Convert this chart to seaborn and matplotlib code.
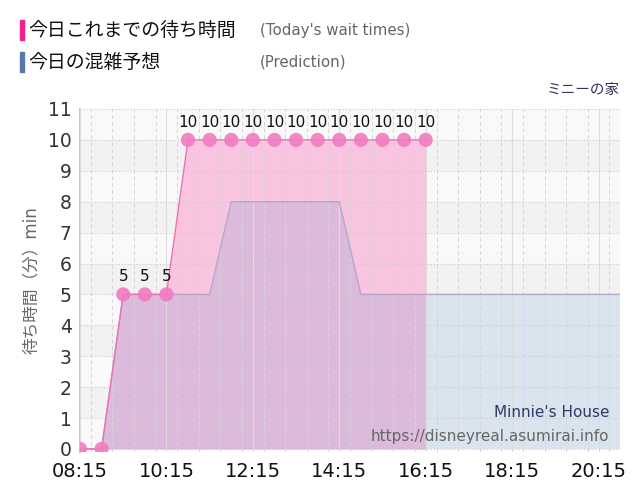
import numpy as np
import pandas as pd
import seaborn as sns
import matplotlib.pyplot as plt
from matplotlib.patches import Rectangle
from matplotlib.ticker import FuncFormatter, MultipleLocator

# Data (hours of the day, 30-min steps)
actual_times = [8.25, 8.75, 9.25, 9.75, 10.25, 10.75, 11.25, 11.75, 12.25, 12.75,
                13.25, 13.75, 14.25, 14.75, 15.25, 15.75, 16.25]
actual_waits = [0, 0, 5, 5, 5, 10, 10, 10, 10, 10, 10, 10, 10, 10, 10, 10, 10]

pred_times = [8.25, 8.75, 9.25, 9.75, 10.25, 10.75, 11.25, 11.75, 12.25, 12.75,
              13.25, 13.75, 14.25, 14.75, 15.25, 15.75, 16.25, 16.75, 17.25,
              17.75, 18.25, 18.75, 19.25, 19.75, 20.25, 20.75]
pred_waits = [0, 0, 5, 5, 5, 5, 5, 8, 8, 8, 8, 8, 8, 5, 5, 5, 5, 5, 5, 5, 5, 5,
              5, 5, 5, 5]

tick_hours = [8.25, 10.25, 12.25, 14.25, 16.25, 18.25, 20.25]

df_act = pd.DataFrame({'time': actual_times, 'wait': actual_waits})
df_pred = pd.DataFrame({'time': pred_times, 'wait': pred_waits})

sns.set_theme(style="white")
plt.rcParams['font.family'] = ['DejaVu Sans', 'Noto Sans CJK JP']

fig = plt.figure(figsize=(6.4, 5.0), dpi=100)
ax = fig.add_axes([0.125, 0.096, 0.844, 0.686])

# alternating background bands
for k in range(11):
    ax.axhspan(k, k + 1, color='#f2f2f2' if k % 2 == 1 else '#f9f9f9', zorder=0, lw=0)

# actual wait fill (pink), then prediction fill on top
ax.fill_between(df_act['time'], 0, df_act['wait'], color='#f8c4e0', zorder=1, lw=0)
last_t = actual_times[-1]
p_before = df_pred[df_pred['time'] <= last_t]
p_after = df_pred[df_pred['time'] >= last_t]
ax.fill_between(p_before['time'], 0, p_before['wait'], color='#dcbadb', zorder=2, lw=0)
ax.fill_between(p_after['time'], 0, p_after['wait'], color='#dae4ee', zorder=2, lw=0)
sns.lineplot(data=df_pred, x='time', y='wait', ax=ax, color='#b8a6c6', lw=1, zorder=3)

# actual line and points
sns.lineplot(data=df_act, x='time', y='wait', ax=ax, color='#f06eb4', lw=1, zorder=4)
sns.scatterplot(data=df_act, x='time', y='wait', ax=ax, color='#f07cc0', s=105,
                edgecolor='none', alpha=0.9, zorder=5)
for t, w in zip(actual_times, actual_waits):
    if w > 0:
        ax.text(t, w + 0.33, str(w), ha='center', va='bottom', fontsize=11,
                color='#111111', zorder=6)

# grid
ax.set_xlim(8.25, 20.75)
ax.set_ylim(-0.1, 11)
ax.xaxis.set_major_locator(plt.FixedLocator(tick_hours))
ax.xaxis.set_minor_locator(MultipleLocator(0.5))
ax.yaxis.set_major_locator(MultipleLocator(1))
ax.grid(which='major', axis='x', color='#dddddd', lw=0.8, zorder=2.5)
ax.grid(which='minor', axis='x', color='#d6d6d6', lw=0.7, ls=(0, (4, 3)), zorder=2.5)
ax.grid(which='major', axis='y', color='#cccccc', lw=0.8, ls=':', zorder=2.5)
ax.set_axisbelow(False)

ax.xaxis.set_major_formatter(FuncFormatter(
    lambda v, p: f"{int(v):02d}:{int(round((v - int(v)) * 60)):02d}"))
ax.tick_params(axis='x', labelsize=14, colors='#111111', length=0, pad=7)
ax.tick_params(axis='y', labelsize=13.5, labelcolor='#333333', length=0, pad=6)
for s in ax.spines.values():
    s.set_visible(False)
ax.spines['left'].set_visible(True)
ax.spines['left'].set_color('#bbbbbb')
ax.set_xlabel('')
ax.set_ylabel('待ち時間（分）min', fontsize=12, color='#666666', labelpad=6)

# legend at top
fig.patches.append(Rectangle((20 / 640, 1 - 40 / 500), 4 / 640, 20 / 500,
                             transform=fig.transFigure, color='#f0218c'))
fig.patches.append(Rectangle((20 / 640, 1 - 72 / 500), 4 / 640, 20 / 500,
                             transform=fig.transFigure, color='#5b79a8'))
fig.text(28 / 640, 1 - 30 / 500, '今日これまでの待ち時間', fontsize=13.6, va='center', color='#111111')
fig.text(28 / 640, 1 - 62 / 500, '今日の混雑予想', fontsize=13.6, va='center', color='#111111')
fig.text(260 / 640, 1 - 30 / 500, "(Today's wait times)", fontsize=10.8, va='center', color='#666666')
fig.text(260 / 640, 1 - 62 / 500, '(Prediction)', fontsize=10.8, va='center', color='#666666')
fig.text(620 / 640, 1 - 90 / 500, 'ミニーの家', fontsize=10.5, ha='right', va='center', color='#333355')

# watermark
ax.text(0.98, 0.115, "Minnie's House", transform=ax.transAxes, ha='right', va='center',
        fontsize=11, color='#2b3a67', zorder=7)
ax.text(0.98, 0.045, 'https://disneyreal.asumirai.info', transform=ax.transAxes,
        ha='right', va='center', fontsize=11, color='#666666', zorder=7)

fig.savefig('out.png', dpi=100)
